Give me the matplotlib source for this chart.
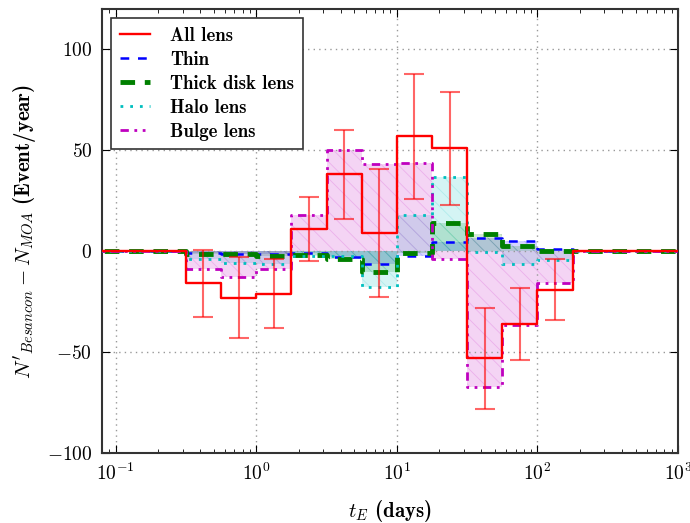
import numpy as np
import matplotlib
matplotlib.use("Agg")
import matplotlib.pyplot as plt

plt.rcParams["mathtext.fontset"] = "cm"
plt.rcParams["font.family"] = ["cmr10", "DejaVu Serif"]
plt.rcParams["axes.formatter.use_mathtext"] = True
plt.rcParams["hatch.linewidth"] = 0.6

# Bin edges (log10 of t_E in days), quarter-decade bins
log_edges = np.arange(-1.25, 3.01, 0.25)
first_data_bin = 3          # bins before 10^-0.5 are empty
# Differences N'_Besancon - N_MOA per bin (10^-0.5 .. 10^2.25 days)
all_lens = [-16, -23, -21, 11, 38, 9, 57, 51, -53, -36, -19]
all_err = [16.5, 20, 17, 16, 22, 31.5, 31, 28, 25, 18, 15]
thin = [-1, -1.5, -1.5, -1, -3, -6.5, -2.5, 4.5, 6.5, 5, 1]
thick = [-1.5, -1.5, -2.5, -2, -4, -10.5, -1, 14, 8.5, 2.5, 0]
halo = [-4, -6, -6.5, -2.5, -2.5, -17.5, 18, 37, -0.5, -6.5, -4.5]
bulge = [-9, -13, -9, 18, 50, 43, 43.5, -4, -67.5, -36.5, -16]

edges = 10 ** log_edges
nbins = len(edges) - 1


def padded(vals):
    out = np.zeros(nbins)
    out[first_data_bin:first_data_bin + len(vals)] = vals
    return out


fig = plt.figure(figsize=(6.9, 5.23), dpi=100)
ax = fig.add_axes([102 / 690, 1 - 453 / 523, 576 / 690, 444 / 523])

series = [
    ("Thin", thin, "b", (0, (3.5, 3.5)), 1.8),
    ("Thick disk lens", thick, "g", (0, (3, 2)), 3.5),
    ("Halo lens", halo, "c", (0, (1, 2.5)), 2.0),
    ("Bulge lens", bulge, "m", (0, (3, 2, 1, 2, 1, 2)), 2.0),
]

# shaded, hatched area between zero and each component
for name, vals, col, ls, lw in series:
    v = padded(vals)
    ax.fill_between(edges, np.append(v, v[-1]), 0, step="post",
                    facecolor=col, alpha=0.17, hatch="\\\\",
                    edgecolor=col, linewidth=0)

handles = []
v_all = padded(all_lens)
h, = ax.step(edges, np.append(v_all, v_all[-1]), where="post",
             color="r", lw=1.7, label="All lens", zorder=5)
handles.append(h)
for name, vals, col, ls, lw in series:
    v = padded(vals)
    h, = ax.step(edges, np.append(v, v[-1]), where="post", color=col,
                 lw=lw, linestyle=ls, label=name, zorder=4)
    handles.append(h)

centers = 10 ** (log_edges[first_data_bin:first_data_bin + len(all_lens)] + 0.125)
ax.errorbar(centers, all_lens, yerr=all_err, fmt="none", ecolor="r",
            alpha=0.6, elinewidth=1.5, capsize=7, capthick=1.5, zorder=6)

ax.set_xscale("log")
ax.set_xlim(0.08, 1000)
ax.set_ylim(-100, 120)
ax.set_yticks([-100, -50, 0, 50, 100])
ax.grid(True, color="#999999", linestyle=(0, (1, 3)), linewidth=1.0)
ax.tick_params(which="both", direction="in", top=True, right=True,
               labelsize=14, pad=7)
ax.tick_params(which="major", length=6)
ax.tick_params(which="minor", length=3)
for s in ax.spines.values():
    s.set_linewidth(1.5)
    s.set_color("#333333")

ax.set_xlabel(r"$t_E$ (days)", fontsize=15, family=["cmb10", "DejaVu Serif"],
              labelpad=10)
ax.set_ylabel(r"$N'_{Besancon} - N_{MOA}$ (Event/year)", fontsize=15,
              family=["cmb10", "DejaVu Serif"], labelpad=6)

leg = ax.legend(handles=handles, loc="upper left", fancybox=False,
                prop={"family": ["cmb10", "DejaVu Serif"], "size": 13.5},
                handlelength=1.6, handletextpad=1.1, borderpad=0.45,
                labelspacing=0.32, borderaxespad=0.5, framealpha=1)
leg.get_frame().set_edgecolor("#333333")
leg.get_frame().set_linewidth(1.2)

fig.savefig("out.png", dpi=100)
